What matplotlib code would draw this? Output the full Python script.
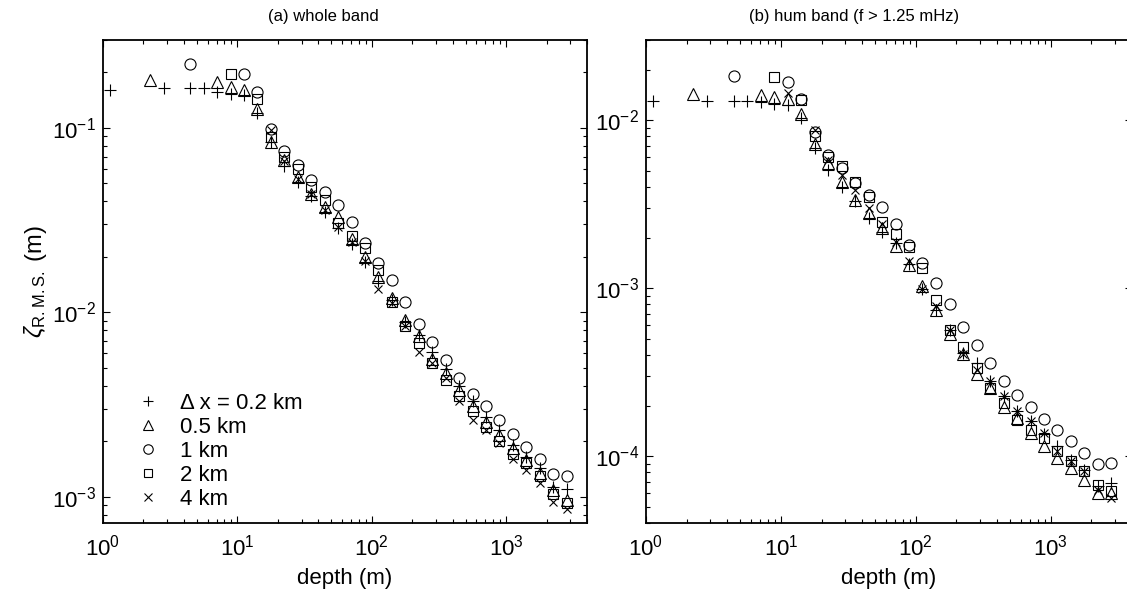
import numpy as np
import matplotlib
matplotlib.use('Agg')
import matplotlib.pyplot as plt

plt.rcParams['font.family'] = ['Liberation Sans', 'DejaVu Sans']
plt.rcParams['mathtext.fontset'] = 'custom'
plt.rcParams['mathtext.rm'] = 'Liberation Sans'
plt.rcParams['mathtext.it'] = 'Liberation Sans:italic'
plt.rcParams['mathtext.bf'] = 'Liberation Sans:bold'

# depth grid (m), shared by all series
depth = [1.12, 1.41, 1.78, 2.24, 2.82, 3.55, 4.47, 5.62, 7.08, 8.91,
         11.2, 14.1, 17.8, 22.4, 28.2, 35.5, 44.7, 56.2, 70.8, 89.1,
         112, 141, 178, 224, 282, 355, 447, 562, 708, 891,
         1122, 1413, 1778, 2239, 2818]

labels = ['\u0394 x = 0.2 km', '0.5 km', '1 km', '2 km', '4 km']

# (a) whole band, zeta rms (m)
a_02 = [0.160, None, None, None, 0.164, None, 0.164, 0.164, 0.157, 0.152,
        0.150, 0.120, 0.084, 0.062, 0.051, 0.043, 0.035, 0.0285, 0.0236, 0.0188,
        0.0147, 0.0117, 0.0089, 0.0075, 0.0061, 0.0049, 0.0040, 0.0033, 0.0027, 0.0023,
        0.0019, 0.00165, 0.00143, 0.00113, 0.00110]
a_05 = [None, None, None, 0.181, None, None, None, None, 0.177, 0.167,
        0.160, 0.127, 0.084, 0.067, 0.054, 0.044, 0.0374, 0.033, 0.0251, 0.0200,
        0.0156, 0.0119, 0.0091, 0.0074, 0.0056, 0.0047, 0.0038, 0.0031, 0.00255, 0.00216,
        0.00183, 0.00158, 0.00134, 0.00109, 0.00096]
a_1 = [None, None, None, None, None, None, 0.221, None, None, None,
       0.197, 0.157, 0.099, 0.075, 0.063, 0.0525, 0.045, 0.0383, 0.0310, 0.0239,
       0.0186, 0.0150, 0.0114, 0.0086, 0.0069, 0.0055, 0.0044, 0.0036, 0.0031, 0.0026,
       0.0022, 0.00187, 0.00160, 0.00133, 0.00129]
a_2 = [None, None, None, None, None, None, None, None, None, 0.197,
       None, 0.143, 0.089, 0.070, 0.060, 0.048, 0.0405, 0.0304, 0.026, 0.0222,
       0.0169, 0.0114, 0.0084, 0.0068, 0.0053, 0.0043, 0.0035, 0.0029, 0.0024, 0.0020,
       0.0017, 0.00152, 0.00129, 0.00104, 0.00092]
a_4 = [None, None, None, None, None, None, None, None, None, None,
       None, None, 0.097, 0.066, 0.053, 0.044, 0.036, 0.029, 0.0241, 0.019,
       0.0133, 0.0113, 0.0084, 0.0061, 0.0053, 0.0044, 0.0033, 0.0026, 0.0023, 0.00195,
       0.0016, 0.0014, 0.00118, 0.00094, 0.00086]

# (b) hum band
b_02 = [0.0130, None, None, None, 0.0130, None, 0.0130, 0.0130, 0.01285, 0.01256,
        0.01228, 0.01023, 0.00679, 0.00505, 0.00402, 0.0033, 0.0026, 0.00215, 0.00185, 0.0014,
        0.00099, 0.00074, 0.00056, 0.00041, 0.000358, 0.000279, 0.000227, 0.000185, 0.000161, 0.000135,
        0.000115, 0.000095, 0.000083, 0.000066, 0.0000693]
b_05 = [None, None, None, 0.0144, None, None, None, None, 0.0141, 0.01364,
        0.01327, 0.01095, 0.0072, 0.00553, 0.0043, 0.00335, 0.00279, 0.00227, 0.00177, 0.00138,
        0.00103, 0.00074, 0.00053, 0.000405, 0.00031, 0.000255, 0.000195, 0.000169, 0.000138, 0.000115,
        0.0000977, 0.0000851, 0.0000726, 0.0000605, 0.000060]
b_1 = [None, None, None, None, None, None, 0.01825, None, None, None,
       0.0169, 0.01333, 0.00852, 0.00619, 0.00516, 0.00424, 0.0036, 0.00305, 0.0024, 0.00181,
       0.00141, 0.00108, 0.0008, 0.000584, 0.000456, 0.000358, 0.000281, 0.00023, 0.000196, 0.000167,
       0.000143, 0.000123, 0.000105, 0.00009, 0.000091]
b_2 = [None, None, None, None, None, None, None, None, None, 0.0181,
       None, 0.0131, 0.0080, 0.0060, 0.0053, 0.0043, 0.0035, 0.00249, 0.0021, 0.00175,
       0.00131, 0.00085, 0.00056, 0.000444, 0.000334, 0.000255, 0.000207, 0.000165, 0.000144, 0.000128,
       0.000107, 0.0000933, 0.0000813, 0.0000678, 0.0000618]
b_4 = [None, None, None, None, None, None, None, None, None, None,
       0.0145, None, 0.0087, 0.0058, 0.0047, 0.00385, 0.0030, 0.0024, 0.00189, 0.00145,
       0.00099, 0.00078, 0.00056, 0.000405, 0.000327, 0.000279, 0.000227, 0.000185, 0.000161, 0.000138,
       0.000107, 0.0000933, 0.0000813, 0.0000633, 0.0000565]

markers = ['+', '^', 'o', 's', 'x']
msizes = [9, 8.5, 8, 6.5, 6]

fig = plt.figure(figsize=(11.27, 5.95), dpi=100)
ax1 = fig.add_axes([0.0914, 0.121, 0.4295, 0.8118])
ax2 = fig.add_axes([0.5732, 0.121, 0.4312, 0.8118])


def draw(ax, series, ylim):
    for vals, m, s, lab in zip(series, markers, msizes, labels):
        ax.plot(depth, np.array(vals, dtype=float), ls='none', marker=m, ms=s,
                mfc='none', mec='k', mew=0.8, label=lab)
    ax.set_xscale('log')
    ax.set_yscale('log')
    ax.set_xlim(1, 4000)
    ax.set_ylim(*ylim)
    ax.tick_params(which='both', direction='in', top=True, right=True,
                   labelsize=16, width=0.8)
    ax.tick_params(which='major', length=5)
    ax.tick_params(which='minor', length=3)
    ax.tick_params(axis='x', pad=8)
    ax.tick_params(axis='y', pad=5)
    for sp in ax.spines.values():
        sp.set_linewidth(1.3)
    ax.set_xlabel('depth (m)', fontsize=16, labelpad=6)


draw(ax1, [a_02, a_05, a_1, a_2, a_4], (7.2e-4, 0.3))
draw(ax2, [b_02, b_05, b_1, b_2, b_4], (4e-5, 0.03))

ax1.set_title('(a) whole band', fontsize=12, x=0.455, pad=14)
ax2.set_title('(b) hum band (f > 1.25 mHz)', fontsize=12, x=0.428, pad=14)
ax1.set_ylabel(r'$\zeta_{\mathrm{R.M.S.}}$ (m)', fontsize=17, labelpad=2)

ax1.legend(loc='lower left', bbox_to_anchor=(0.059, 0.027), frameon=False,
           fontsize=16, borderpad=0, borderaxespad=0, handlelength=1.5,
           handletextpad=0.7, labelspacing=0.14, markerscale=0.85)

fig.savefig('out.png', dpi=100)
